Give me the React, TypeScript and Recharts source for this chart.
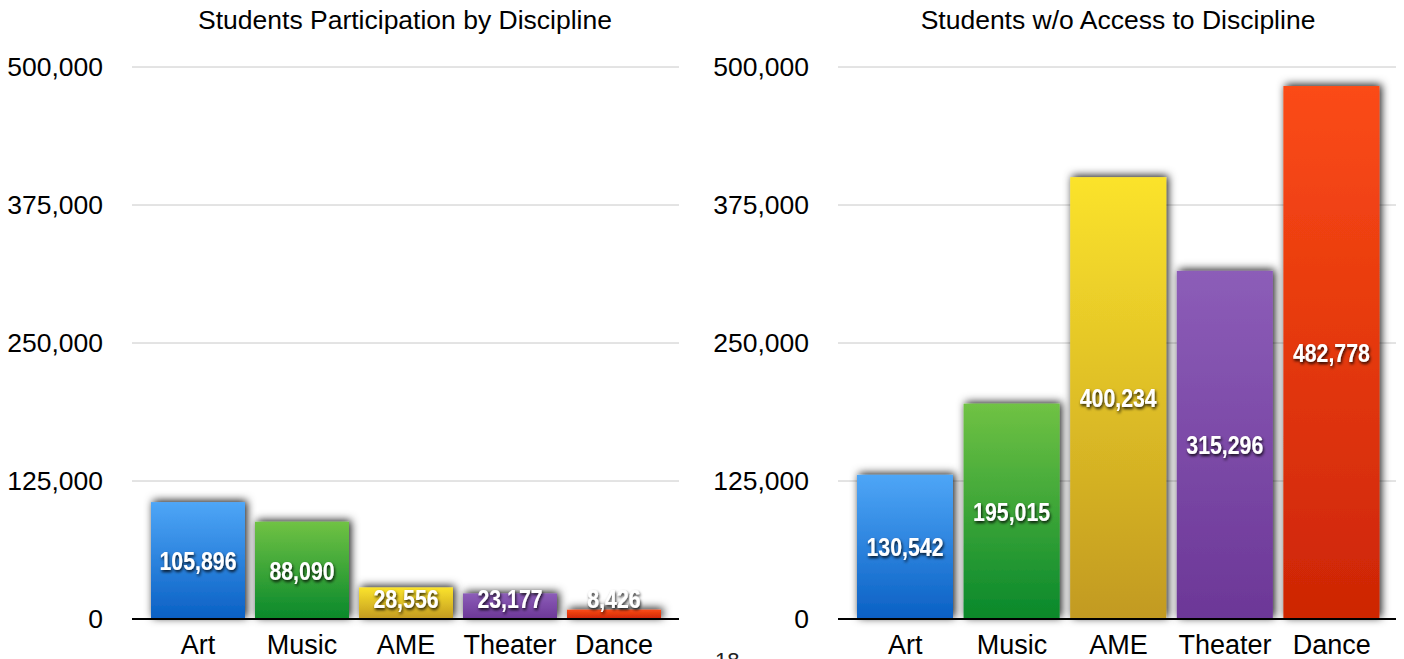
import React from "react"
import { Bar, BarChart, CartesianGrid, LabelList, XAxis, YAxis } from "recharts"

const categories = ["Art", "Music", "AME", "Theater", "Dance"]
const participation = [105896, 88090, 28556, 23177, 8426]
const noAccess = [130542, 195015, 400234, 315296, 482778]
const yTicks = [0, 125000, 250000, 375000, 500000]

const gradTop = ["#4ea6f7", "#70c244", "#fbe32c", "#8c5db8", "#fb4b16"]
const gradBottom = ["#0a60c4", "#08882b", "#c29a20", "#6c3797", "#cd2505"]

const font = "'Liberation Sans', Arial, Helvetica, sans-serif"

const participationData = categories.map((name, i) => ({ name, value: participation[i] }))
const noAccessData = categories.map((name, i) => ({ name, value: noAccess[i] }))

function BarShape(props: any) {
  const { x, y, width, height, index, prefix } = props
  if (!height) return null
  return (
    <rect
      x={x}
      y={y}
      width={width}
      height={height}
      fill={`url(#${prefix}-g${index})`}
      filter={`url(#${prefix}-shadow)`}
    />
  )
}

function ValueLabel(props: any) {
  const { x, y, width, height, value, prefix } = props
  const cx = x + width / 2
  const cy = Math.min(y + height / 2, y + height - 20)
  return (
    <g filter={`url(#${prefix}-tshadow)`}>
      <text
        x={0}
        y={0}
        transform={`translate(${cx},${cy}) scale(0.82,1)`}
        textAnchor="middle"
        dominantBaseline="central"
        fill="#ffffff"
        fontFamily={font}
        fontWeight="bold"
        fontSize={26}
      >
        {Number(value).toLocaleString("en-US")}
      </text>
    </g>
  )
}

function DisciplineChart({ data, prefix, width, barSize, pad }: any) {
  return (
    <BarChart
      width={width}
      height={690}
      data={data}
      margin={{ top: 67, right: 8, bottom: 31, left: 0 }}
    >
      <defs>
        {gradTop.map((c, i) => (
          <linearGradient key={i} id={`${prefix}-g${i}`} x1="0" y1="0" x2="0" y2="1">
            <stop offset="0%" stopColor={c} />
            <stop offset="100%" stopColor={gradBottom[i]} />
          </linearGradient>
        ))}
        <filter id={`${prefix}-shadow`} filterUnits="userSpaceOnUse" x="-50" y="-50" width="900" height="900">
          <feDropShadow dx="2" dy="-1.5" stdDeviation="4" floodColor="#000" floodOpacity="0.9" />
        </filter>
        <filter id={`${prefix}-tshadow`} filterUnits="userSpaceOnUse" x="-50" y="-50" width="900" height="900">
          <feDropShadow dx="1" dy="2" stdDeviation="1.5" floodColor="#000" floodOpacity="0.85" />
        </filter>
      </defs>
      <CartesianGrid vertical={false} stroke="#c8c8c8" strokeWidth={1} />
      <XAxis
        dataKey="name"
        padding={pad}
        axisLine={{ stroke: "#000", strokeWidth: 2 }}
        tickLine={false}
        tickSize={0}
        tickMargin={16}
        height={40}
        tick={{ fill: "#000", fontSize: 27, fontFamily: font }}
        interval={0}
      />
      <YAxis
        domain={[0, 500000]}
        ticks={yTicks}
        interval={0}
        width={132}
        axisLine={false}
        tickLine={false}
        tickSize={0}
        tickMargin={29}
        tick={{ fill: "#000", fontSize: 26.5, fontFamily: font }}
        tickFormatter={(v: number) => v.toLocaleString("en-US")}
      />
      <Bar
        dataKey="value"
        barSize={barSize}
        isAnimationActive={false}
        shape={(p: any) => <BarShape {...p} prefix={prefix} />}
      >
        <LabelList dataKey="value" content={(p: any) => <ValueLabel {...p} prefix={prefix} />} />
      </Bar>
    </BarChart>
  )
}

const titleStyle: React.CSSProperties = {
  position: "absolute",
  top: 5,
  fontFamily: font,
  fontSize: 26.5,
  color: "#000",
  whiteSpace: "nowrap",
  transform: "translateX(-50%)",
  lineHeight: "30px",
}

export default function App() {
  return (
    <div
      style={{
        position: "absolute",
        left: 0,
        top: 0,
        width: 1404,
        height: 659,
        overflow: "hidden",
        background: "#fff",
      }}
    >
      <div style={{ ...titleStyle, left: 405 }}>Students Participation by Discipline</div>
      <div style={{ ...titleStyle, left: 1118 }}>Students w/o Access to Discipline</div>
      <div style={{ position: "absolute", left: 0, top: 0 }}>
        <DisciplineChart
          data={participationData}
          prefix="left"
          width={687}
          barSize={94}
          pad={{ left: 14, right: 13 }}
        />
      </div>
      <div style={{ position: "absolute", left: 706, top: 0 }}>
        <DisciplineChart
          data={noAccessData}
          prefix="right"
          width={698}
          barSize={96}
          pad={{ left: 14, right: 11 }}
        />
      </div>
      <div
        style={{
          position: "absolute",
          left: 715,
          top: 650,
          fontFamily: font,
          fontSize: 22,
          lineHeight: "22px",
          color: "#222",
        }}
      >
        18
      </div>
    </div>
  )
}
